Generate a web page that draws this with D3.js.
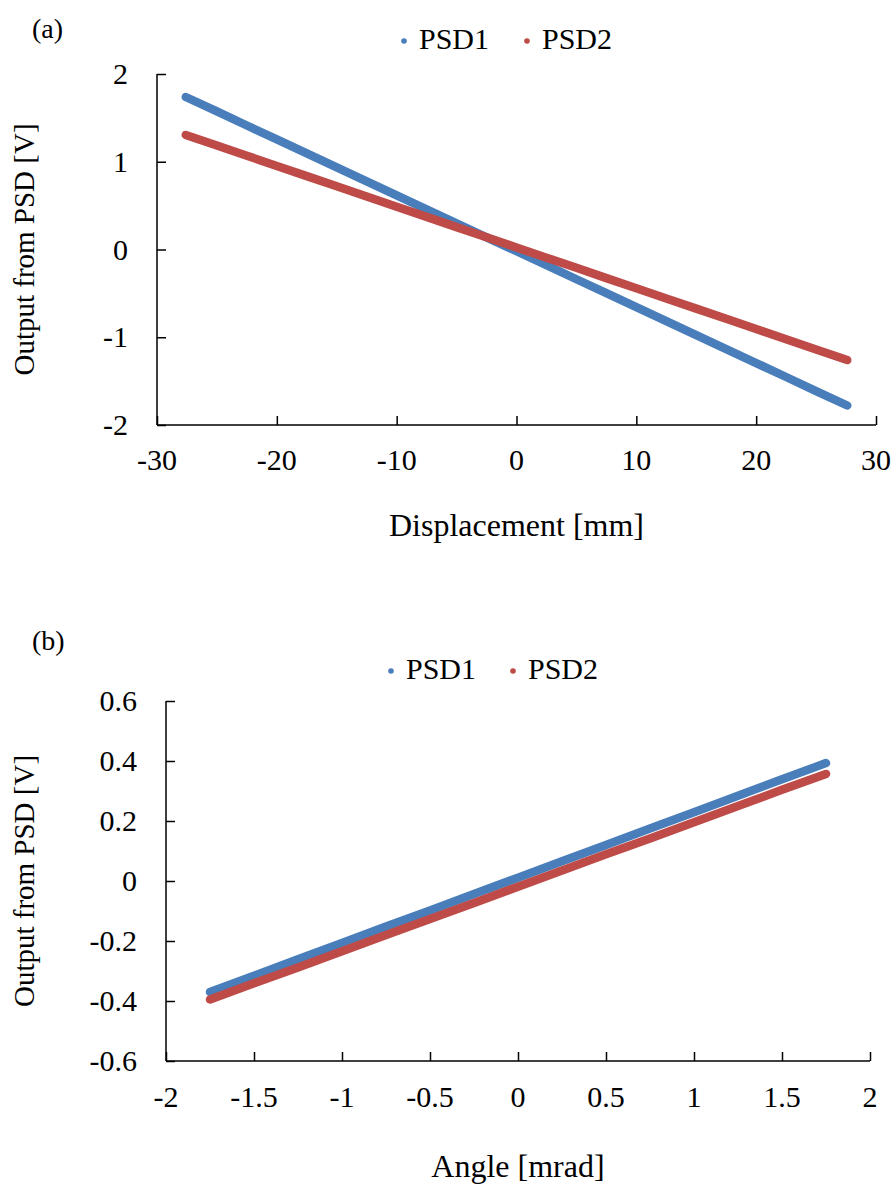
<!DOCTYPE html>
<html>
<head>
<meta charset="utf-8">
<script src="https://cdn.jsdelivr.net/npm/d3@7"></script>
<style>
  html, body { margin: 0; padding: 0; background: #fff; }
  svg text { font-family: "Liberation Serif", "Times New Roman", serif; fill: #000; }
</style>
</head>
<body>
<svg id="chart" width="895" height="1187"></svg>
<script>
// ---- Panel (a): output vs. displacement ----
const dispX = [-27.6, -25, -22.5, -20, -17.5, -15, -12.5, -10, -7.5, -5, -2.5, 0,
               2.5, 5, 7.5, 10, 12.5, 15, 17.5, 20, 22.5, 25, 27.6];
const dispPSD1 = [1.738, 1.573, 1.413, 1.254, 1.095, 0.936, 0.776, 0.617, 0.458, 0.299, 0.139, -0.020,
                  -0.179, -0.339, -0.498, -0.657, -0.816, -0.976, -1.135, -1.294, -1.453, -1.613, -1.778];
const dispPSD2 = [1.306, 1.185, 1.069, 0.952, 0.836, 0.720, 0.604, 0.488, 0.372, 0.255, 0.139, 0.023,
                  -0.093, -0.209, -0.326, -0.442, -0.558, -0.674, -0.790, -0.906, -1.023, -1.139, -1.260];
const dispXTicks = [-30, -20, -10, 0, 10, 20, 30];
const dispYTicks = [-2, -1, 0, 1, 2];

// ---- Panel (b): output vs. angle ----
const angX = [-1.75, -1.5, -1.25, -1, -0.75, -0.5, -0.25, 0, 0.25, 0.5, 0.75, 1, 1.25, 1.5, 1.75];
const angPSD1 = [-0.370, -0.316, -0.261, -0.207, -0.152, -0.098, -0.043, 0.011,
                 0.066, 0.120, 0.175, 0.229, 0.284, 0.339, 0.393];
const angPSD2 = [-0.395, -0.341, -0.288, -0.234, -0.180, -0.127, -0.073, -0.019,
                 0.035, 0.089, 0.142, 0.196, 0.250, 0.304, 0.357];
const angXTicks = [-2, -1.5, -1, -0.5, 0, 0.5, 1, 1.5, 2];
const angYTicks = [-0.6, -0.4, -0.2, 0, 0.2, 0.4, 0.6];

const seriesNames = ["PSD1", "PSD2"];
const seriesColors = ["#4a7ebb", "#be4b48"];

const svg = d3.select("#chart");

function panel(cfg) {
  const g = svg.append("g");
  const x = d3.scaleLinear().domain(cfg.xDomain).range([cfg.left, cfg.right]);
  const y = d3.scaleLinear().domain(cfg.yDomain).range([cfg.bottom, cfg.top]);

  // panel tag
  g.append("text").attr("x", 32).attr("y", cfg.tagY)
    .attr("font-size", 28).text(cfg.tag);

  // legend
  const leg = g.append("g");
  seriesNames.forEach((name, i) => {
    leg.append("circle").attr("cx", cfg.legendX[i]).attr("cy", cfg.legendY - 8)
      .attr("r", 2.8).attr("fill", seriesColors[i]);
    leg.append("text").attr("x", cfg.legendX[i] + 15).attr("y", cfg.legendY)
      .attr("font-size", 30).text(name);
  });

  // axes with inward ticks
  const fmt = d => (d < 0 ? "-" : "") + Math.abs(d);
  const xAxis = d3.axisTop(x).tickValues(cfg.xTicks).tickSize(9).tickFormat("");
  const yAxis = d3.axisRight(y).tickValues(cfg.yTicks).tickSize(9).tickFormat("");
  const ga = g.append("g").attr("transform", `translate(0,${cfg.bottom})`).call(xAxis);
  const gb = g.append("g").attr("transform", `translate(${cfg.left},0)`).call(yAxis);
  [ga, gb].forEach(a => {
    a.select(".domain").remove();
    a.selectAll(".tick line").attr("stroke", "#000").attr("stroke-width", 1.5);
  });
  g.append("line").attr("x1", cfg.left).attr("x2", cfg.right)
    .attr("y1", cfg.bottom).attr("y2", cfg.bottom)
    .attr("stroke", "#000").attr("stroke-width", 1.5);
  g.append("line").attr("x1", cfg.left).attr("x2", cfg.left)
    .attr("y1", cfg.top).attr("y2", cfg.bottom)
    .attr("stroke", "#000").attr("stroke-width", 1.5);

  // tick labels
  g.selectAll(".xl").data(cfg.xTicks).join("text")
    .attr("x", d => x(d)).attr("y", cfg.bottom + cfg.xLabelOff)
    .attr("text-anchor", "middle").attr("font-size", 30).text(fmt);
  g.selectAll(".yl").data(cfg.yTicks).join("text")
    .attr("x", cfg.left - 29).attr("y", d => y(d) + 10)
    .attr("text-anchor", "end").attr("font-size", 30).text(fmt);

  // axis titles
  g.append("text").attr("x", (cfg.left + cfg.right) / 2).attr("y", cfg.xTitleY)
    .attr("text-anchor", "middle").attr("font-size", 32).text(cfg.xTitle);
  g.append("text")
    .attr("transform", `translate(34,${(cfg.top + cfg.bottom) / 2}) rotate(-90)`)
    .attr("text-anchor", "middle").attr("font-size", 29).text("Output from PSD [V]");

  // series: dense measured points drawn as a thick continuous band
  const line = d3.line().x(d => x(d[0])).y(d => y(d[1]));
  cfg.series.forEach((vals, i) => {
    const pts = cfg.xs.map((v, k) => [v, vals[k]]);
    g.append("path").datum(pts).attr("d", line)
      .attr("fill", "none").attr("stroke", seriesColors[i])
      .attr("stroke-width", 8.5).attr("stroke-linecap", "round")
      .attr("stroke-linejoin", "round");
  });
}

panel({
  tag: "(a)", tagY: 38,
  xDomain: [-30, 30], yDomain: [-2, 2],
  left: 157, right: 876, top: 74, bottom: 425,
  xTicks: dispXTicks, yTicks: dispYTicks, xLabelOff: 45,
  xTitle: "Displacement [mm]", xTitleY: 536,
  legendX: [404, 527], legendY: 49,
  xs: dispX, series: [dispPSD1, dispPSD2]
});

panel({
  tag: "(b)", tagY: 650,
  xDomain: [-2, 2], yDomain: [-0.6, 0.6],
  left: 166, right: 870, top: 701, bottom: 1061,
  xTicks: angXTicks, yTicks: angYTicks, xLabelOff: 46,
  xTitle: "Angle [mrad]", xTitleY: 1177,
  legendX: [391, 513], legendY: 679,
  xs: angX, series: [angPSD1, angPSD2]
});
</script>
</body>
</html>
